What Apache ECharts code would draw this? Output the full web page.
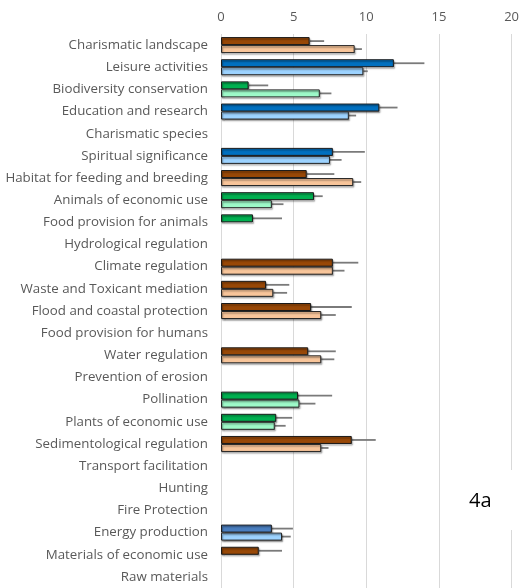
<!DOCTYPE html>
<html>
<head>
<meta charset="utf-8">
<script src="https://cdn.jsdelivr.net/npm/echarts@6/dist/echarts.min.js"></script>
<style>
  html, body { margin: 0; padding: 0; background: #fff; }
  #chart { width: 522px; height: 588px; }
</style>
</head>
<body>
<div id="chart"></div>
<script>
// Ecosystem services, two scores per service (upper and lower bar), with positive error whiskers
const categories = [
  'Charismatic landscape', 'Leisure activities', 'Biodiversity conservation',
  'Education and research', 'Charismatic species', 'Spiritual significance',
  'Habitat for feeding and breeding', 'Animals of economic use',
  'Food provision for animals', 'Hydrological regulation', 'Climate regulation',
  'Waste and Toxicant mediation', 'Flood and coastal protection',
  'Food provision for humans', 'Water regulation', 'Prevention of erosion',
  'Pollination', 'Plants of economic use', 'Sedimentological regulation',
  'Transport facilitation', 'Hunting', 'Fire Protection', 'Energy production',
  'Materials of economic use', 'Raw materials'
];

// upper bar of each pair
const upperValues = [6.1, 11.9, 1.9, 10.9, null, 7.7, 5.9, 6.4, 2.2, null, 7.7,
  3.1, 6.2, null, 6.0, null, 5.3, 3.8, 9.0, null, null, null, 3.5, 2.6, null];
const upperError = [1.0, 2.1, 1.35, 1.25, null, 2.2, 1.9, 0.6, 2.0, null, 1.75,
  1.6, 2.8, null, 1.9, null, 2.35, 1.1, 1.65, null, null, null, 1.45, 1.6, null];

// lower bar of each pair
const lowerValues = [9.2, 9.8, 6.8, 8.8, null, 7.5, 9.1, 3.5, null, null, 7.7,
  3.6, 6.9, null, 6.9, null, 5.4, 3.7, 6.9, null, null, null, 4.2, null, null];
const lowerError = [0.5, 0.3, 0.8, 0.5, null, 0.8, 0.55, 0.8, null, null, 0.8,
  0.95, 1.0, null, 0.9, null, 1.1, 0.75, 0.5, null, null, null, 0.6, null, null];

// colour family of each service row
const rowFamily = [0, 1, 2, 1, 0, 1, 0, 2, 2, 0, 0, 0, 0, 0, 0, 0, 2, 2, 0, 0, 0, 0, 3, 0, 0];

const xTicks = { min: 0, max: 20, step: 5 };

const families = [
  { dark: '#984807', light: '#F8C59A' }, // brown / peach
  { dark: '#0070C0', light: '#9DD3FF' }, // blue
  { dark: '#00B050', light: '#9DF9C8' }, // green
  { dark: '#4A7EBF', light: '#9DD3FF' }  // steel blue
];

const BAR_W = 8;
const GAP = 0;

function barData(values, key) {
  return values.map((v, i) => ({
    value: v,
    itemStyle: { color: families[rowFamily[i]][key] }
  }));
}

function whiskerData(values, errs) {
  return values.map((v, i) => (v == null || errs[i] == null) ? [i, '-', '-'] : [i, v, v + errs[i]]);
}

function whiskerSeries(name, values, errs, side) {
  return {
    name: name,
    type: 'custom',
    z: 1,
    silent: true,
    encode: { x: [1, 2], y: 0 },
    data: whiskerData(values, errs),
    renderItem: function (params, api) {
      const idx = api.value(0);
      const a = api.value(1), b = api.value(2);
      if (isNaN(a) || isNaN(b)) return;
      const p0 = api.coord([a, idx]);
      const p1 = api.coord([b, idx]);
      const y = p0[1] + side * BAR_W / 2;
      return {
        type: 'line',
        shape: { x1: p0[0], y1: y, x2: p1[0], y2: y },
        style: { stroke: '#7A7A7A', lineWidth: 1.8 }
      };
    }
  };
}

const chart = echarts.init(document.getElementById('chart'), null, { renderer: 'canvas' });

const barStyleCommon = {
  borderColor: '#1a1a1a',
  borderWidth: 1,
  shadowColor: 'rgba(0,0,0,0.45)',
  shadowBlur: 1.5,
  shadowOffsetX: 1,
  shadowOffsetY: 1.5
};

chart.setOption({
  animation: false,
  backgroundColor: '#ffffff',
  grid: { left: 221, right: 9, top: 34, bottom: 0, containLabel: false },
  xAxis: {
    type: 'value',
    position: 'top',
    min: xTicks.min,
    max: xTicks.max,
    interval: xTicks.step,
    axisLine: { show: false },
    axisTick: { show: false },
    axisLabel: { color: '#595959', fontSize: 13, fontFamily: 'Open Sans', margin: 10 },
    splitLine: { lineStyle: { color: '#D9D9D9', width: 1 } }
  },
  yAxis: {
    type: 'category',
    inverse: true,
    data: categories,
    axisLine: { show: false },
    axisTick: { show: false },
    axisLabel: { color: '#595959', fontSize: 13.3, fontFamily: 'Open Sans', margin: 13 }
  },
  series: [
    {
      name: 'upper', type: 'bar', barWidth: BAR_W, barGap: GAP, z: 2,
      itemStyle: barStyleCommon,
      data: barData(upperValues, 'dark')
    },
    {
      name: 'lower', type: 'bar', barWidth: BAR_W, barGap: GAP, z: 2,
      itemStyle: Object.assign({}, barStyleCommon, { borderColor: '#262626' }),
      data: barData(lowerValues, 'light')
    },
    whiskerSeries('upperErr', upperValues, upperError, -1),
    whiskerSeries('lowerErr', lowerValues, lowerError, 1)
  ],
  graphic: [
    {
      type: 'rect', left: 456, top: 470, z: 10,
      shape: { width: 66, height: 60 },
      style: { fill: '#ffffff' }
    },
    {
      type: 'text', left: 469, top: 491, z: 11,
      style: { text: '4a', fill: '#000000', fontSize: 20, fontFamily: 'Open Sans' }
    }
  ]
});
</script>
</body>
</html>
